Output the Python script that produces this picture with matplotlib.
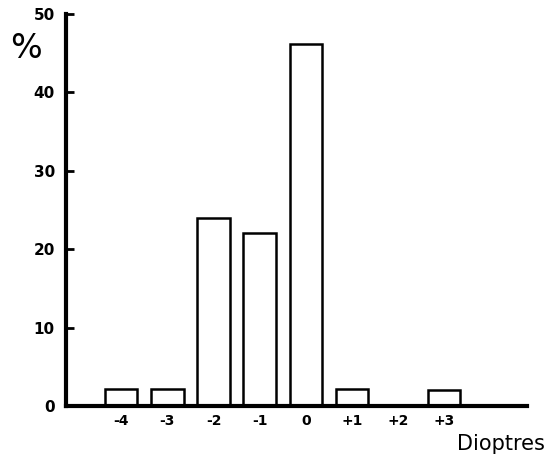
import matplotlib
matplotlib.use("Agg")
import matplotlib.pyplot as plt

dioptres = [-4, -3, -2, -1, 0, 1, 2, 3]
tick_labels = ["-4", "-3", "-2", "-1", "0", "+1", "+2", "+3"]
percent = [2.2, 2.2, 24, 22, 46.2, 2.2, 0, 2.1]

fig = plt.figure(figsize=(5.47, 4.66), dpi=100)
ax = fig.add_axes([0.1207, 0.1288, 0.8427, 0.8412])

bar_x = [d for d, p in zip(dioptres, percent) if p > 0]
bar_h = [p for p in percent if p > 0]
ax.bar(bar_x, bar_h, width=0.7, color="white", edgecolor="black", linewidth=1.8)

ax.set_xlim(-5.2, 4.8)
ax.set_ylim(0, 50)
ax.set_yticks([0, 10, 20, 30, 40, 50])
ax.set_xticks(dioptres)
ax.set_xticklabels(tick_labels)

for s in ["top", "right"]:
    ax.spines[s].set_visible(False)
ax.spines["left"].set_linewidth(3)
ax.spines["bottom"].set_linewidth(3)

ax.tick_params(axis="y", direction="in", length=6, width=2, labelsize=11, pad=8)
ax.tick_params(axis="x", length=0, labelsize=10, pad=6)
for lab in ax.get_xticklabels() + ax.get_yticklabels():
    lab.set_fontweight("bold")

fig.text(0.018, 0.895, "%", fontsize=24, ha="left", va="center")
fig.text(0.997, 0.048, "Dioptres", fontsize=15, ha="right", va="center")

fig.savefig("out.png", dpi=100)
